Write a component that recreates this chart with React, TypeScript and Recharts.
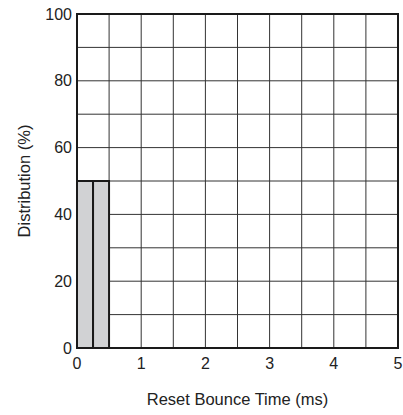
import {
  ComposedChart,
  Bar,
  XAxis,
  YAxis,
  CartesianGrid,
  ReferenceArea,
  Label,
} from 'recharts'

// histogram bins, 0.25 ms wide (bin centres)
const BIN_CENTERS = [
  0.125, 0.375, 0.625, 0.875, 1.125, 1.375, 1.625, 1.875, 2.125, 2.375,
  2.625, 2.875, 3.125, 3.375, 3.625, 3.875, 4.125, 4.375, 4.625, 4.875,
]
const DISTRIBUTION = [
  50, 50, 0, 0, 0, 0, 0, 0, 0, 0,
  0, 0, 0, 0, 0, 0, 0, 0, 0, 0,
]
const X_TICKS = [0, 0.5, 1, 1.5, 2, 2.5, 3, 3.5, 4, 4.5, 5]
const Y_TICKS = [0, 10, 20, 30, 40, 50, 60, 70, 80, 90, 100]

const data = BIN_CENTERS.map((t, i) => ({ t, value: DISTRIBUTION[i] }))

const FONT = '"Liberation Sans", Arial, Helvetica, sans-serif'
const TEXT = '#222222'

export default function App() {
  return (
    <div style={{ position: 'absolute', left: 0, top: 0, width: 403, height: 415, background: '#fff' }}>
      <ComposedChart
        width={403}
        height={415}
        data={data}
        margin={{ top: 14, right: 5, bottom: 0, left: 0 }}
        barCategoryGap={0}
        barGap={0}
        style={{ fontFamily: FONT }}
      >
        <CartesianGrid stroke="#333333" strokeWidth={1} />
        <XAxis
          dataKey="t"
          type="number"
          domain={[0, 5]}
          ticks={X_TICKS}
          interval={0}
          tickFormatter={(v: number) => (Number.isInteger(v) ? String(v) : '')}
          height={67}
          axisLine={false}
          tickLine={false}
          tickSize={0}
          tickMargin={10}
          tick={{ fontSize: 16, fill: TEXT, fontFamily: FONT }}
        >
          <Label value="Reset Bounce Time (ms)" position="insideBottom" offset={10} style={{ fontSize: 16.5, fill: TEXT, fontFamily: FONT }} />
        </XAxis>
        <YAxis
          type="number"
          domain={[0, 100]}
          ticks={Y_TICKS}
          interval={0}
          tickFormatter={(v: number) => (v % 20 === 0 ? String(v) : '')}
          width={77}
          axisLine={false}
          tickLine={false}
          tickSize={0}
          tickMargin={5}
          tick={{ fontSize: 16, fill: TEXT, fontFamily: FONT }}
        >
          <Label
            value="Distribution (%)"
            angle={-90}
            position="insideLeft"
            offset={24}
            style={{ fontSize: 16.5, fill: TEXT, fontFamily: FONT, textAnchor: 'middle' }}
          />
        </YAxis>
        <Bar
          dataKey="value"
          fill="#d1d2d4"
          stroke="#1a1a1a"
          strokeWidth={2}
          isAnimationActive={false}
        />
        <ReferenceArea
          x1={0}
          x2={5}
          y1={0}
          y2={100}
          fill="none"
          fillOpacity={0}
          stroke="#1a1a1a"
          strokeWidth={2}
        />
      </ComposedChart>
    </div>
  )
}
